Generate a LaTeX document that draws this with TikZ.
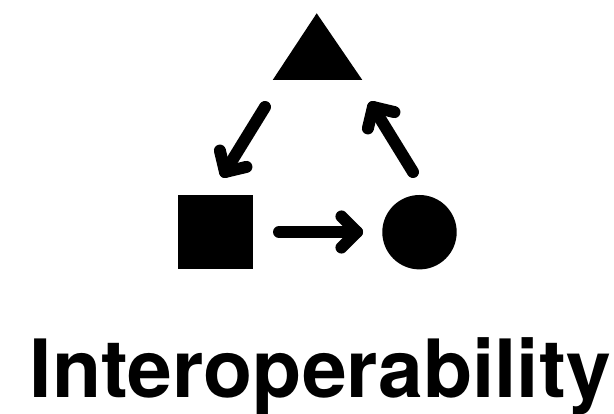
\documentclass[tikz,border=0pt]{standalone}
\usepackage{fontspec}
\newfontfamily\heros{TeX Gyre Heros}
\usetikzlibrary{calc}
\begin{document}
\begin{tikzpicture}[x=1pt,y=-1pt,
  shapefill/.style={fill=black, draw=none, inner sep=0pt, outer sep=0pt, minimum size=74.4pt},
  thickline/.style={line width=12pt, line cap=round, line join=round, black}]
\useasboundingbox (0,0) rectangle (614,414);
% shapes
\fill[black] (316.7,13.3) -- (362.3,80) -- (272.7,80) -- cycle;
\coordinate (tri) at (317.5,55);
\node[shapefill, rectangle] (sq) at (215.5,232.2) {};
\node[shapefill, circle] (ci) at (419.5,232.2) {};
% arrow end points
\coordinate (t1) at (265,107);
\coordinate (h1) at (225,172);
\coordinate (t2) at (279,232);
\coordinate (h2) at (357,232);
\coordinate (t3) at (413,172);
\coordinate (h3) at (373,107);
% shafts and heads
\foreach \t/\h in {t1/h1, t2/h2, t3/h3}{
  \draw[thickline] (\t) -- (\h);
  \draw[thickline] ($(\h)!22pt!45:(\t)$) -- (\h) -- ($(\h)!22pt!-45:(\t)$);
}
\node[anchor=base west, inner sep=0pt, outer sep=0pt] (lbl) at (29.9,398)
  {\fontsize{80.4}{90}\selectfont\heros\bfseries Interoperability};
\end{tikzpicture}
\end{document}
